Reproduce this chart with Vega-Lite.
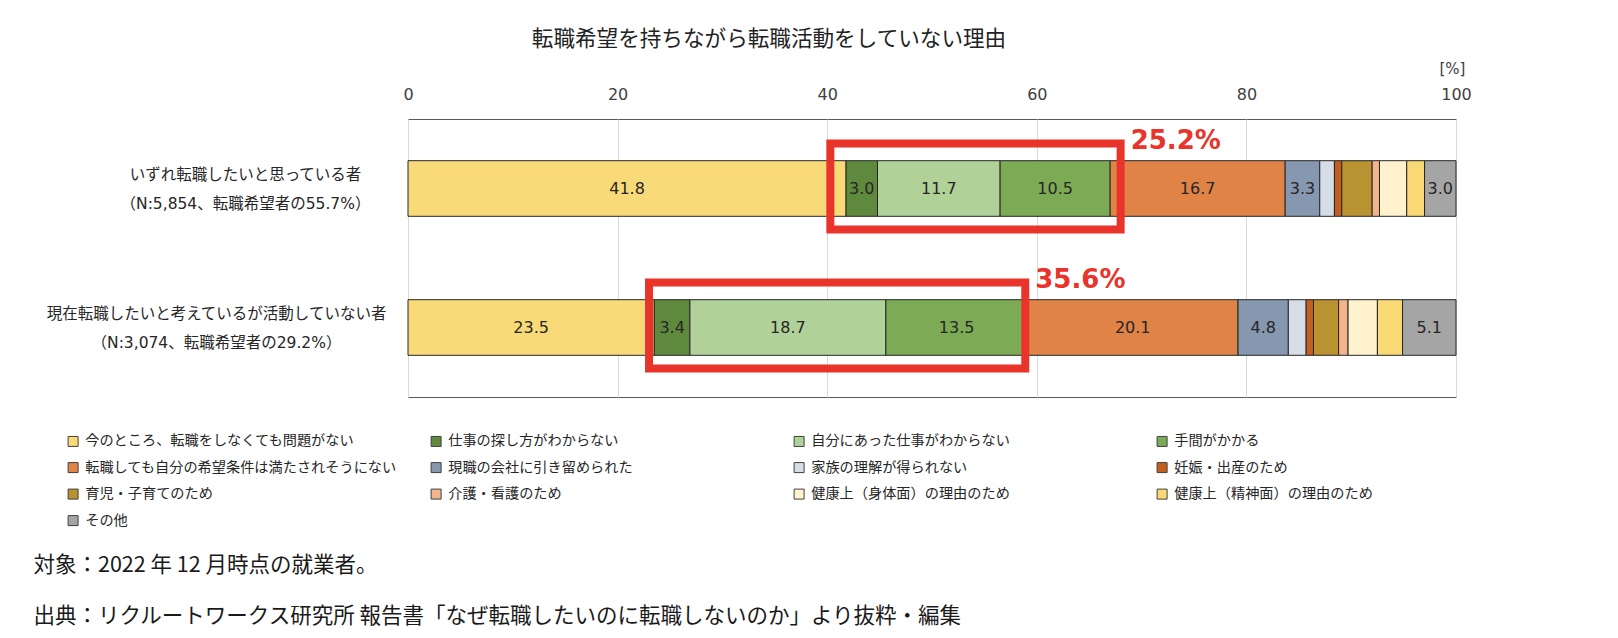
{
  "$schema": "https://vega.github.io/schema/vega-lite/v6.json",
  "autosize": {"type": "none"},
  "width": 1048,
  "height": 278,
  "padding": {"left": 408, "top": 119, "right": 162, "bottom": 241},
  "background": "white",
  "config": {"view": {"stroke": "#595959", "strokeWidth": 1}, "font": "Noto Sans CJK JP"},
  "title": {"text": "転職希望を持ちながら転職活動をしていない理由", "anchor": "middle", "frame": "group", "dx": -163, "dy": -2, "fontSize": 21.6, "fontWeight": "normal", "font": "Noto Sans CJK JP", "color": "#222222", "offset": 8},
  "datasets": {
    "bars": [
      {"g": "いずれ転職したいと思っている者|（N:5,854、転職希望者の55.7%）", "k": 1, "r": "今のところ、転職をしなくても問題がない", "v": 41.8},
      {"g": "いずれ転職したいと思っている者|（N:5,854、転職希望者の55.7%）", "k": 2, "r": "仕事の探し方がわからない", "v": 3.0},
      {"g": "いずれ転職したいと思っている者|（N:5,854、転職希望者の55.7%）", "k": 3, "r": "自分にあった仕事がわからない", "v": 11.7},
      {"g": "いずれ転職したいと思っている者|（N:5,854、転職希望者の55.7%）", "k": 4, "r": "手間がかかる", "v": 10.5},
      {"g": "いずれ転職したいと思っている者|（N:5,854、転職希望者の55.7%）", "k": 5, "r": "転職しても自分の希望条件は満たされそうにない", "v": 16.7},
      {"g": "いずれ転職したいと思っている者|（N:5,854、転職希望者の55.7%）", "k": 6, "r": "現職の会社に引き留められた", "v": 3.3},
      {"g": "いずれ転職したいと思っている者|（N:5,854、転職希望者の55.7%）", "k": 7, "r": "家族の理解が得られない", "v": 1.4},
      {"g": "いずれ転職したいと思っている者|（N:5,854、転職希望者の55.7%）", "k": 8, "r": "妊娠・出産のため", "v": 0.7},
      {"g": "いずれ転職したいと思っている者|（N:5,854、転職希望者の55.7%）", "k": 9, "r": "育児・子育てのため", "v": 2.9},
      {"g": "いずれ転職したいと思っている者|（N:5,854、転職希望者の55.7%）", "k": 10, "r": "介護・看護のため", "v": 0.7},
      {"g": "いずれ転職したいと思っている者|（N:5,854、転職希望者の55.7%）", "k": 11, "r": "健康上（身体面）の理由のため", "v": 2.6},
      {"g": "いずれ転職したいと思っている者|（N:5,854、転職希望者の55.7%）", "k": 12, "r": "健康上（精神面）の理由のため", "v": 1.7},
      {"g": "いずれ転職したいと思っている者|（N:5,854、転職希望者の55.7%）", "k": 13, "r": "その他", "v": 3.0},
      {"g": "現在転職したいと考えているが活動していない者|（N:3,074、転職希望者の29.2%）", "k": 1, "r": "今のところ、転職をしなくても問題がない", "v": 23.5},
      {"g": "現在転職したいと考えているが活動していない者|（N:3,074、転職希望者の29.2%）", "k": 2, "r": "仕事の探し方がわからない", "v": 3.4},
      {"g": "現在転職したいと考えているが活動していない者|（N:3,074、転職希望者の29.2%）", "k": 3, "r": "自分にあった仕事がわからない", "v": 18.7},
      {"g": "現在転職したいと考えているが活動していない者|（N:3,074、転職希望者の29.2%）", "k": 4, "r": "手間がかかる", "v": 13.5},
      {"g": "現在転職したいと考えているが活動していない者|（N:3,074、転職希望者の29.2%）", "k": 5, "r": "転職しても自分の希望条件は満たされそうにない", "v": 20.1},
      {"g": "現在転職したいと考えているが活動していない者|（N:3,074、転職希望者の29.2%）", "k": 6, "r": "現職の会社に引き留められた", "v": 4.8},
      {"g": "現在転職したいと考えているが活動していない者|（N:3,074、転職希望者の29.2%）", "k": 7, "r": "家族の理解が得られない", "v": 1.7},
      {"g": "現在転職したいと考えているが活動していない者|（N:3,074、転職希望者の29.2%）", "k": 8, "r": "妊娠・出産のため", "v": 0.7},
      {"g": "現在転職したいと考えているが活動していない者|（N:3,074、転職希望者の29.2%）", "k": 9, "r": "育児・子育てのため", "v": 2.4},
      {"g": "現在転職したいと考えているが活動していない者|（N:3,074、転職希望者の29.2%）", "k": 10, "r": "介護・看護のため", "v": 0.9},
      {"g": "現在転職したいと考えているが活動していない者|（N:3,074、転職希望者の29.2%）", "k": 11, "r": "健康上（身体面）の理由のため", "v": 2.8},
      {"g": "現在転職したいと考えているが活動していない者|（N:3,074、転職希望者の29.2%）", "k": 12, "r": "健康上（精神面）の理由のため", "v": 2.4},
      {"g": "現在転職したいと考えているが活動していない者|（N:3,074、転職希望者の29.2%）", "k": 13, "r": "その他", "v": 5.1}
    ],
    "boxes": [
      {"g": "いずれ転職したいと思っている者|（N:5,854、転職希望者の55.7%）", "x0": 40.3, "x1": 68.0, "lab": "25.2%"},
      {"g": "現在転職したいと考えているが活動していない者|（N:3,074、転職希望者の29.2%）", "x0": 23.0, "x1": 58.9, "lab": "35.6%"}
    ]
  },
  "data": {"name": "bars"},
  "encoding": {
    "y": {
      "field": "g", "type": "nominal",
      "scale": {"domain": ["いずれ転職したいと思っている者|（N:5,854、転職希望者の55.7%）", "現在転職したいと考えているが活動していない者|（N:3,074、転職希望者の29.2%）"], "paddingInner": 0, "paddingOuter": 0},
      "axis": {
        "title": null, "ticks": false, "tickSize": 0, "domain": false, "grid": false,
        "labelExpr": "split(datum.label, '|')",
        "labelAlign": "center", "labelBaseline": "middle",
        "labelFont": "DejaVu Sans, Noto Sans CJK JP", "labelFontSize": 15.5, "labelColor": "#262626",
        "labelLineHeight": 29, "labelLimit": 600, "labelOffset": -14,
        "labelPadding": {"condition": {"test": "indexof(datum.value, 'いずれ') === 0", "value": 163}, "value": 192}
      }
    }
  },
  "layer": [
    {
      "mark": {"type": "bar", "height": {"band": 0.4}, "stroke": "#262626", "strokeWidth": 1},
      "encoding": {
        "x": {
          "field": "v", "type": "quantitative", "stack": "zero",
          "scale": {"domain": [0, 100], "nice": false},
          "axis": {
            "orient": "top", "values": [0, 20, 40, 60, 80, 100], "ticks": false, "tickSize": 0, "domain": false,
            "grid": true, "gridColor": "#d9d9d9", "gridWidth": 1,
            "labelFont": "DejaVu Sans", "labelFontSize": 16, "labelColor": "#404040", "labelPadding": 17, "labelFlush": false,
            "title": "[%]", "titleFont": "DejaVu Sans", "titleFontSize": 15, "titleFontWeight": "normal", "titleColor": "#404040",
            "titleX": 1044, "titleY": -51, "titleAlign": "center", "titleBaseline": "middle"
          }
        },
        "color": {
          "field": "r", "type": "nominal",
          "scale": {
            "domain": ["今のところ、転職をしなくても問題がない", "仕事の探し方がわからない", "自分にあった仕事がわからない", "手間がかかる", "転職しても自分の希望条件は満たされそうにない", "現職の会社に引き留められた", "家族の理解が得られない", "妊娠・出産のため", "育児・子育てのため", "介護・看護のため", "健康上（身体面）の理由のため", "健康上（精神面）の理由のため", "その他"],
            "range": ["#F9DA78", "#5F8A3E", "#B0D197", "#7DAB55", "#E08346", "#8697B0", "#D7DDE6", "#C25E20", "#B99332", "#F2B48A", "#FFF2CC", "#F9D976", "#A5A5A5"]
          },
          "legend": {
            "title": null, "orient": "none", "legendX": -342, "legendY": 315,
            "direction": "horizontal", "columns": 4, "gridAlign": "all", "columnPadding": 31, "rowPadding": 11.5,
            "symbolType": "square", "symbolSize": 100, "symbolStrokeColor": "#404040", "symbolStrokeWidth": 1,
            "labelFont": "Noto Sans CJK JP", "labelFontSize": 14.2, "labelColor": "#262626", "labelLimit": 600, "labelOffset": 5, "padding": 0
          }
        },
        "order": {"field": "k", "type": "quantitative"}
      }
    },
    {
      "mark": {"type": "text", "font": "DejaVu Sans", "fontSize": 16, "color": "#262626", "baseline": "middle", "align": "center"},
      "encoding": {
        "x": {"field": "v", "type": "quantitative", "stack": "zero", "bandPosition": 0.5, "scale": {"domain": [0, 100], "nice": false}, "axis": null},
        "detail": {"field": "r"},
        "order": {"field": "k", "type": "quantitative"},
        "text": {"condition": {"test": "datum.v < 3", "value": ""}, "field": "v", "type": "quantitative", "format": ".1f"}
      }
    },
    {
      "data": {"name": "boxes"},
      "mark": {"type": "bar", "height": {"band": 0.62}, "fill": "transparent", "stroke": "#E8342A", "strokeWidth": 8, "yOffset": -2},
      "encoding": {
        "x": {
          "field": "x0", "type": "quantitative", "scale": {"domain": [0, 100], "nice": false},
          "axis": {
            "orient": "bottom", "labels": false, "ticks": false, "domain": false, "grid": false,
            "title": ["対象：2022 年 12 月時点の就業者。", "出典：リクルートワークス研究所 報告書「なぜ転職したいのに転職しないのか」より抜粋・編集"],
            "titleX": -375, "titleY": 168, "titleAlign": "left", "titleAnchor": "start", "titleBaseline": "middle",
            "titleFont": "Noto Sans CJK JP", "titleFontSize": 21.5, "titleFontWeight": "normal", "titleColor": "#1a1a1a",
            "titleLineHeight": 51, "titleLimit": 1500
          }
        },
        "x2": {"field": "x1"}
      }
    },
    {
      "data": {"name": "boxes"},
      "mark": {"type": "text", "align": "left", "baseline": "alphabetic", "dx": 10, "dy": -40, "font": "DejaVu Sans", "fontSize": 26, "fontWeight": "bold", "color": "#E8342A"},
      "encoding": {
        "x": {"field": "x1", "type": "quantitative", "scale": {"domain": [0, 100], "nice": false}, "axis": null},
        "text": {"field": "lab"}
      }
    }
  ],
  "resolve": {"axis": {"x": "independent"}}
}
